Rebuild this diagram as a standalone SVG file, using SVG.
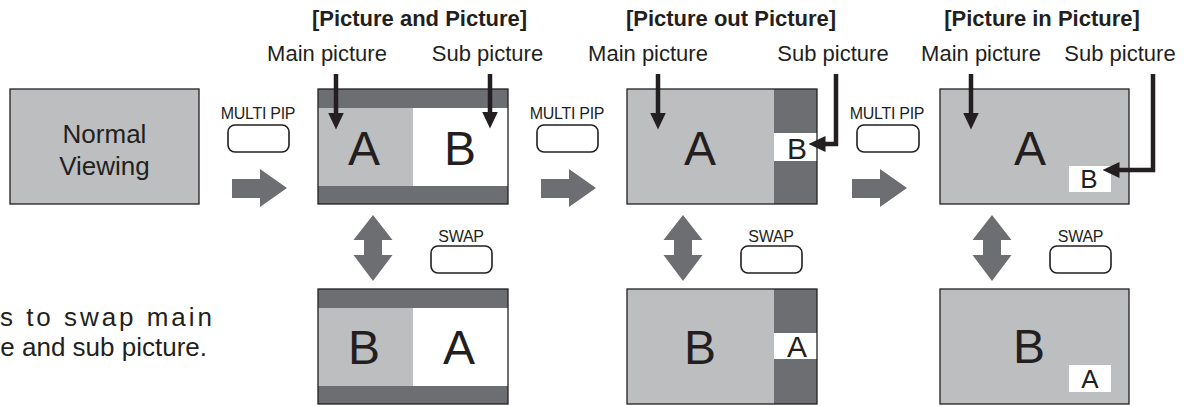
<svg xmlns="http://www.w3.org/2000/svg" width="1193" height="406" viewBox="0 0 1193 406">
<style>
text{font-family:"Liberation Sans",Arial,sans-serif;fill:#231f20}
.title{font-size:22px;font-weight:bold;text-anchor:middle}
.lbl{font-size:22px;text-anchor:middle}
.btn{font-size:16px;letter-spacing:-0.3px;text-anchor:middle}
.big{font-size:48px;text-anchor:middle}
.sm{font-size:30px;text-anchor:middle}
.sm2{font-size:26px;text-anchor:middle}
.note{font-size:26px}
.scr{stroke:#231f20;stroke-width:1.3}
.lg{fill:#bcbec0}
.dk{fill:#6d6e71}
.wh{fill:#fff}
.key{fill:#fff;stroke:#231f20;stroke-width:1.6}
.ptr{fill:none;stroke:#231f20;stroke-width:4.5;marker-end:url(#ah)}
.garrow{fill:#6d6e71}
</style>
<defs>
<marker id="ah" markerUnits="userSpaceOnUse" markerWidth="17" markerHeight="16" viewBox="0 0 17 16" refX="0.5" refY="8" orient="auto">
<path d="M0,0 L17,8 L0,16 z" fill="#231f20"/>
</marker>
<path id="rarrow" d="M0,10 H28 V0 L55,19 L28,38 V29 H0 z"/>
<path id="darrow" d="M0,-33 L19.5,-8 H9 V7 H19.5 L0,33 L-19.5,7 H-9 V-8 H-19.5 z"/>
</defs>

<!-- titles and labels -->
<g id="titles">
<text class="title" x="419.5" y="26">[Picture and Picture]</text>
<text class="title" x="731" y="26">[Picture out Picture]</text>
<text class="title" x="1042" y="26">[Picture in Picture]</text>
<text class="lbl" x="327" y="61">Main picture</text>
<text class="lbl" x="487.5" y="61">Sub picture</text>
<text class="lbl" x="648" y="61">Main picture</text>
<text class="lbl" x="833" y="61">Sub picture</text>
<text class="lbl" x="981" y="61">Main picture</text>
<text class="lbl" x="1120" y="61">Sub picture</text>
</g>

<g id="normal">
<rect class="scr lg" x="10" y="89" width="189" height="115"/>
<text class="lbl" style="font-size:26px" x="104.5" y="143">Normal</text>
<text class="lbl" style="font-size:26px" x="104.5" y="175">Viewing</text>
</g>

<g id="pap-top">
<rect class="lg" x="318" y="108" width="95" height="78"/>
<rect class="wh" x="413" y="108" width="95" height="78"/>
<rect class="dk" x="318" y="89" width="190" height="19"/>
<rect class="dk" x="318" y="186" width="190" height="18"/>
<rect class="scr" fill="none" x="318" y="89" width="190" height="115"/>
<text class="big" x="364" y="165">A</text>
<text class="big" x="460" y="165">B</text>
</g>

<g id="pop-top">
<rect class="lg" x="627" y="89" width="147" height="115"/>
<rect class="dk" x="774" y="89" width="43" height="115"/>
<rect class="wh" x="774" y="133" width="43" height="28"/>
<rect class="scr" fill="none" x="627" y="89" width="190" height="115"/>
<text class="big" x="700" y="165">A</text>
<text class="sm" x="797" y="159">B</text>
</g>

<g id="pip-top">
<rect class="scr lg" x="940" y="89" width="189" height="115"/>
<rect class="wh" x="1069" y="166" width="42" height="26"/>
<text class="big" x="1030" y="165">A</text>
<text class="sm2" x="1089" y="188">B</text>
</g>

<g id="pap-bottom">
<rect class="lg" x="318" y="308" width="95" height="78"/>
<rect class="wh" x="413" y="308" width="95" height="78"/>
<rect class="dk" x="318" y="289" width="190" height="19"/>
<rect class="dk" x="318" y="386" width="190" height="18"/>
<rect class="scr" fill="none" x="318" y="289" width="190" height="115"/>
<text class="big" x="364" y="364">B</text>
<text class="big" x="459" y="364">A</text>
</g>

<g id="pop-bottom">
<rect class="lg" x="627" y="289" width="147" height="115"/>
<rect class="dk" x="774" y="289" width="43" height="115"/>
<rect class="wh" x="774" y="333" width="43" height="26"/>
<rect class="scr" fill="none" x="627" y="289" width="190" height="115"/>
<text class="big" x="700" y="364">B</text>
<text class="sm" x="797" y="357">A</text>
</g>

<g id="pip-bottom">
<rect class="scr lg" x="940" y="289" width="189" height="115"/>
<rect class="wh" x="1069" y="365" width="42" height="27"/>
<text class="big" x="1029" y="363">B</text>
<text class="sm2" x="1090" y="388">A</text>
</g>

<g id="buttons">
<text class="btn" x="258" y="119">MULTI PIP</text>
<rect class="key" x="228" y="125" width="61" height="27" rx="7"/>
<text class="btn" x="567" y="119">MULTI PIP</text>
<rect class="key" x="537" y="125" width="61" height="27" rx="7"/>
<text class="btn" x="887" y="119">MULTI PIP</text>
<rect class="key" x="857" y="125" width="62" height="27" rx="7"/>
<text class="btn" x="461" y="242">SWAP</text>
<rect class="key" x="431" y="246" width="61" height="27" rx="7"/>
<text class="btn" x="771" y="242">SWAP</text>
<rect class="key" x="741" y="246" width="61" height="27" rx="7"/>
<text class="btn" x="1080.5" y="242">SWAP</text>
<rect class="key" x="1050" y="246" width="61" height="27" rx="7"/>
</g>

<g id="connectors">
<use href="#rarrow" class="garrow" x="232" y="169"/>
<use href="#rarrow" class="garrow" x="541" y="169"/>
<use href="#rarrow" class="garrow" x="852" y="169"/>
<use href="#darrow" class="garrow" x="373" y="248"/>
<use href="#darrow" class="garrow" x="683" y="248"/>
<use href="#darrow" class="garrow" x="992" y="248"/>
<path class="ptr" d="M336,74 V113"/>
<path class="ptr" d="M490,74 V112"/>
<path class="ptr" d="M658,74 V113"/>
<path class="ptr" d="M836,74 V144 H825"/>
<path class="ptr" d="M971,74 V113"/>
<path class="ptr" d="M1153,74 V170 H1119"/>
</g>

<g id="note">
<text class="note" x="0" y="326" textLength="212" lengthAdjust="spacing">s to swap main</text>
<text class="note" x="207" y="356" text-anchor="end">e and sub picture.</text>
</g>
</svg>
